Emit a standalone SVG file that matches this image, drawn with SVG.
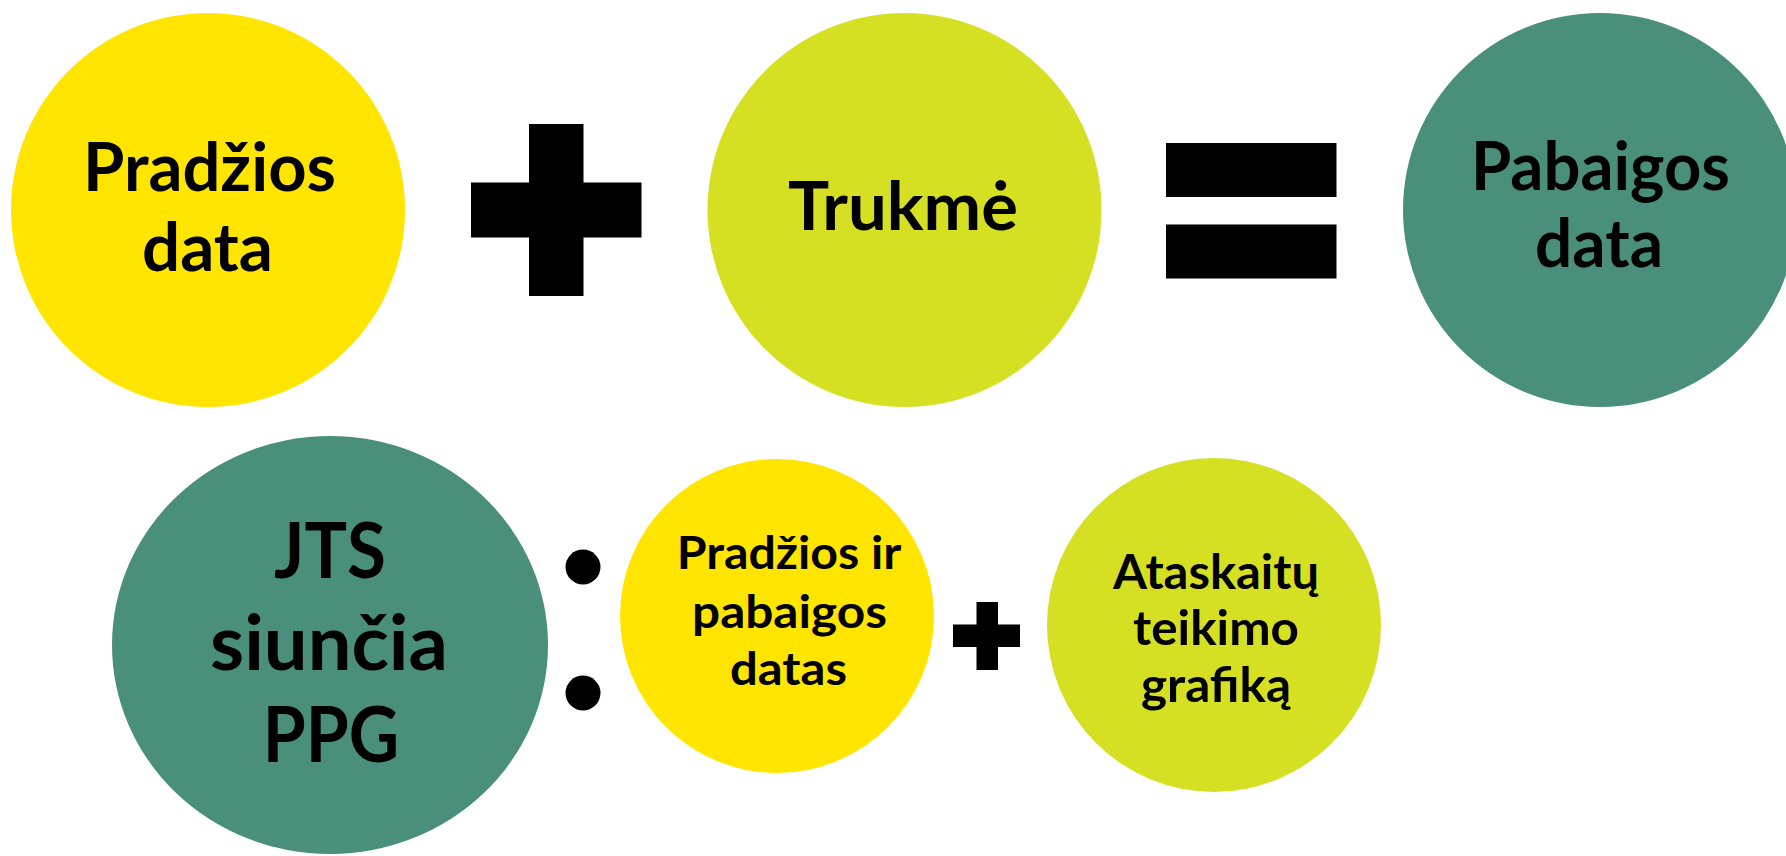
<svg xmlns="http://www.w3.org/2000/svg" width="1786" height="856" viewBox="0 0 1786 856">
<style>
.t{font-family:Lato,"Liberation Sans",sans-serif;font-weight:700;fill:#000;text-anchor:middle}
.y{fill:#FFE500}
.l{fill:#D6E023}
.g{fill:#4A8F7B}
.k{fill:#000}
</style>
<rect width="1786" height="856" fill="#fff"/>
<g id="pradzios-data">
<circle class="y" cx="208" cy="210" r="197"/>
<text class="t" font-size="66" x="209.5" y="190.5" textLength="253" lengthAdjust="spacingAndGlyphs">Pradžios</text>
<text class="t" font-size="66" x="207.5" y="271" textLength="131" lengthAdjust="spacingAndGlyphs">data</text>
</g>
<g id="plus-top">
<rect class="k" x="529" y="124" width="54.5" height="172"/>
<rect class="k" x="471" y="182.5" width="170.5" height="55"/>
</g>
<g id="trukme">
<circle class="l" cx="904.5" cy="210" r="197"/>
<text class="t" font-size="67" x="903" y="230" textLength="230" lengthAdjust="spacingAndGlyphs">Trukmė</text>
</g>
<g id="equals">
<rect class="k" x="1166" y="143" width="170.5" height="54"/>
<rect class="k" x="1166" y="224.5" width="170.5" height="54"/>
</g>
<g id="pabaigos-data">
<circle class="g" cx="1600" cy="210" r="197"/>
<text class="t" font-size="66" x="1600.5" y="190" textLength="259" lengthAdjust="spacingAndGlyphs">Pabaigos</text>
<text class="t" font-size="66" x="1599" y="266.7" textLength="128" lengthAdjust="spacingAndGlyphs">data</text>
</g>
<g id="jts">
<ellipse class="g" cx="330" cy="645" rx="218" ry="209"/>
<text class="t" font-size="76" x="330" y="578" textLength="112" lengthAdjust="spacingAndGlyphs">JTS</text>
<text class="t" font-size="76" x="329" y="670" textLength="238" lengthAdjust="spacingAndGlyphs">siunčia</text>
<text class="t" font-size="76" x="331" y="761.7" textLength="136.5" lengthAdjust="spacingAndGlyphs">PPG</text>
</g>
<g id="colon">
<circle class="k" cx="583" cy="567" r="17.5"/>
<circle class="k" cx="583" cy="693" r="17.5"/>
</g>
<g id="pradzios-pabaigos">
<circle class="y" cx="777" cy="616" r="157"/>
<text class="t" font-size="46" x="789" y="569" textLength="224.5" lengthAdjust="spacingAndGlyphs">Pradžios ir</text>
<text class="t" font-size="46" x="789.5" y="627.5" textLength="195" lengthAdjust="spacingAndGlyphs">pabaigos</text>
<text class="t" font-size="46" x="788.5" y="685" textLength="117" lengthAdjust="spacingAndGlyphs">datas</text>
</g>
<g id="plus-bottom">
<rect class="k" x="976.5" y="602" width="21.5" height="68"/>
<rect class="k" x="953" y="624.5" width="67" height="22.5"/>
</g>
<g id="ataskaitu">
<circle class="l" cx="1214" cy="625" r="167"/>
<text class="t" font-size="47" x="1216" y="588.6" textLength="206" lengthAdjust="spacingAndGlyphs">Ataskaitų</text>
<text class="t" font-size="47" x="1216" y="645" textLength="166" lengthAdjust="spacingAndGlyphs">teikimo</text>
<text class="t" font-size="47" x="1216" y="702" textLength="150" lengthAdjust="spacingAndGlyphs">grafiką</text>
</g>
<g id="connectors"></g>
</svg>
